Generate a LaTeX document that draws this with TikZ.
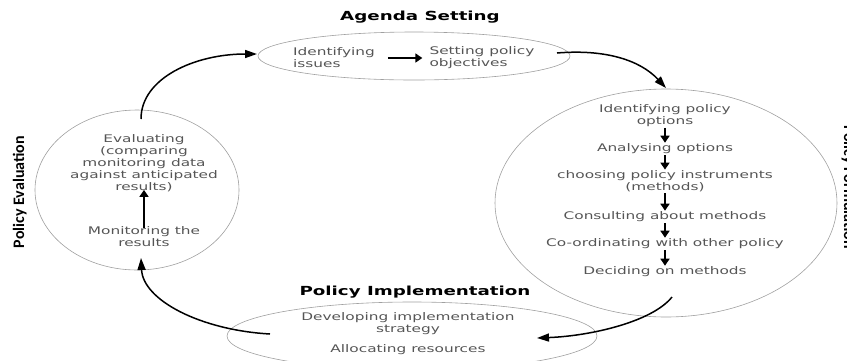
\documentclass[tikz,border=0pt]{standalone}
\usepackage{fontspec}
\usetikzlibrary{shapes.geometric,arrows.meta}
\newfontfamily\bodyfont{DejaVu Sans}[FakeStretch=1.46]
\newfontfamily\sidefont{Carlito}
\definecolor{txtgray}{HTML}{555555}
\definecolor{linegray}{HTML}{A0A0A0}
\tikzset{
  phase/.style={ellipse, draw=linegray, line width=0.6pt, inner sep=0pt},
  body/.style={font=\bodyfont\fontsize{10.5}{12}\selectfont, text=txtgray, align=center, inner sep=1pt},
  title/.style={font=\bodyfont\bfseries\fontsize{12.5}{14}\selectfont, text=black, inner sep=1pt},
  side/.style={text=black, inner sep=0pt, anchor=base},
  flow/.style={line width=1.5pt, -{Triangle[length=12pt,width=8pt]}},
  smallarrow/.style={line width=1.5pt, -{Triangle[length=7pt,width=9pt]}}
}
\begin{document}
\begin{tikzpicture}[x=1pt,y=-1pt]
\clip (0,0) rectangle (847,360);
\useasboundingbox (0,0) rectangle (847,360);

% phase ellipses
\node[phase, minimum width=312pt, minimum height=48pt] (agenda) at (414,56) {};
\node[phase, minimum width=342pt, minimum height=228pt] (formul) at (666,203) {};
\node[phase, minimum width=370pt, minimum height=68pt] (implem) at (412,336) {};
\node[phase, minimum width=204pt, minimum height=160pt] (evalu) at (137,190) {};

% titles
\node[title] (tagenda) at (420,17) {Agenda Setting};
\node[title] (timpl) at (415,292) {Policy Implementation};
\node[side, rotate=90, font=\sidefont\bfseries\fontsize{16}{18}\selectfont] (teval) at (24,192) {Policy Evaluation};
\node[side, rotate=-90, font=\sidefont\bfseries\fontsize{16}{18}\selectfont] (tform) at (844,187) {Policy Formulation};

% agenda setting
\node[body, align=left] (iss) at (334,58) {Identifying\\issues};
\node[body, align=left] (spo) at (482,58) {Setting policy\\objectives};
\draw[smallarrow] ([xshift=12pt]iss.east) -- ([xshift=-6pt]spo.west);

% formulation
\node[body] (io) at (665,115.5) {Identifying policy\\options};
\node[body] (ao) at (665,149) {Analysing options};
\node[body] (cp) at (665,181.5) {choosing policy instruments\\(methods)};
\node[body] (cm) at (665,217) {Consulting about methods};
\node[body] (co) at (665,244) {Co-ordinating with other policy};
\node[body] (dm) at (665,272) {Deciding on methods};
\draw[smallarrow] (io) -- (ao);
\draw[smallarrow] (ao) -- (cp);
\draw[smallarrow] (cp) -- (cm);
\draw[smallarrow] (cm) -- (co);
\draw[smallarrow] (co) -- (dm);

% implementation
\node[body] (dev) at (408,324) {Developing implementation\\strategy};
\node[body] (alloc) at (408,350) {Allocating resources};

% evaluation
\node[body] (evl) at (144,163) {Evaluating\\(comparing\\monitoring data\\against anticipated\\results)};
\node[body] (mon) at (144,236.5) {Monitoring the\\results};
\draw[smallarrow] ([yshift=-3pt]mon.north) -- ([yshift=3pt]evl.south);

% cycle connectors
\coordinate (s1) at (557,53);
\coordinate (e1) at (666,88);
\coordinate (s2) at (672,297);
\coordinate (e2) at (537,338);
\coordinate (s3) at (270,334);
\coordinate (e3) at (141,258);
\coordinate (s4) at (141,119);
\coordinate (e4) at (257,54);
\draw[flow] (s1) .. controls (605,49) and (640,60) .. (e1);
\draw[flow] (s2) .. controls (652,322) and (590,336) .. (e2);
\draw[flow] (s3) .. controls (200,330) and (143,300) .. (e3);
\draw[flow] (s4) .. controls (141,78) and (195,54) .. (e4);
\end{tikzpicture}
\end{document}
